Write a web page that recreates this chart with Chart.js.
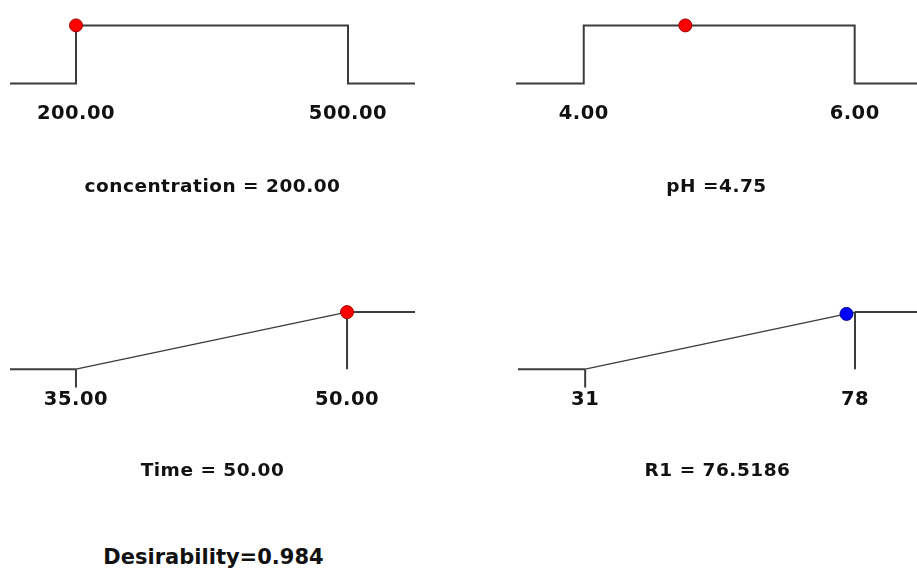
<!DOCTYPE html>
<html>
<head>
<meta charset="utf-8">
<script src="https://cdn.jsdelivr.net/npm/chart.js@4.4.1/dist/chart.umd.min.js"></script>
<style>
  html, body { margin: 0; padding: 0; background: #fff; }
  body { width: 917px; height: 569px; position: relative; overflow: hidden; }
  canvas { position: absolute; }
  #overall {
    position: absolute; left: 0; width: 427px; top: 545px;
    text-align: center; color: #111; line-height: 21px;
    font: bold 21px "DejaVu Sans", sans-serif;
  }
</style>
</head>
<body>
<canvas id="conc" width="405" height="190" style="left:10px;top:8px"></canvas>
<canvas id="ph" width="401" height="190" style="left:516px;top:8px"></canvas>
<canvas id="time" width="405" height="187" style="left:10px;top:295px"></canvas>
<canvas id="r1" width="399" height="187" style="left:518px;top:295px"></canvas>
<div id="overall">Desirability=0.984</div>
<script>
// concentration (in range)
const concX = [127.2, 200, 200, 500, 500, 573.9];
const concY = [0, 0, 1, 1, 0, 0];
const concTicks = [200, 500];
const concTickLabels = ['200.00', '500.00'];
const concPoint = [200, 1];

// pH (in range)
const phX = [3.5, 4, 4, 6, 6, 6.46];
const phY = [0, 0, 1, 1, 0, 0];
const phTicks = [4, 6];
const phTickLabels = ['4.00', '6.00'];
const phPoint = [4.75, 1];

// Time (maximize)
const timeX = [31.35, 35, 50, 53.76];
const timeY = [0, 0, 1, 1];
const timeTicks = [35, 50];
const timeTickLabels = ['35.00', '50.00'];
const timePoint = [50, 1];
const timeHighX = [50, 50];
const timeHighY = [1, 0];
const timeLowX = [35, 35];
const timeLowY = [0, -0.32];

// R1 (maximize)
const r1X = [19.3, 31, 78, 88.8];
const r1Y = [0, 0, 1, 1];
const r1Ticks = [31, 78];
const r1TickLabels = ['31', '78'];
const r1Point = [76.5186, 0.9685];
const r1HighX = [78, 78];
const r1HighY = [1, 0];
const r1LowX = [31, 31];
const r1LowY = [0, -0.32];

const LINE = '#3c3c3c';
const FONT = '"DejaVu Sans", sans-serif';

function pts(xs, ys) {
  return xs.map((x, i) => ({ x: x, y: ys[i] }));
}

function lineSet(data) {
  return {
    data: data,
    borderColor: LINE,
    borderWidth: 2,
    pointRadius: 0,
    clip: false,
    segment: {
      // the sloped ramp is drawn thinner than the flat/vertical parts
      borderWidth: (c) => (c.p0.parsed.x !== c.p1.parsed.x && c.p0.parsed.y !== c.p1.parsed.y) ? 1.4 : 2
    }
  };
}

const spacing = {
  id: 'spacing',
  beforeDraw(chart) {
    chart.ctx.letterSpacing = '0.5px';
  }
};

function makePanel(id, lines, point, fill, edge, ticks, tickLabels, title, yMin, tickPad, axisHeight) {
  const xs = lines[0].map(p => p.x);
  const datasets = [{
    data: [{ x: point[0], y: point[1] }],
    showLine: false,
    pointRadius: 6.5,
    pointBackgroundColor: fill,
    pointBorderColor: edge,
    pointBorderWidth: 1,
    clip: false
  }].concat(lines.map(lineSet));

  new Chart(document.getElementById(id), {
    type: 'line',
    data: { datasets: datasets },
    plugins: [spacing],
    options: {
      responsive: false,
      animation: false,
      layout: { padding: 0, autoPadding: false },
      plugins: { legend: { display: false }, tooltip: { enabled: false } },
      scales: {
        x: {
          type: 'linear',
          min: Math.min(...xs),
          max: Math.max(...xs),
          grid: { display: false, drawTicks: false, tickLength: 0 },
          border: { display: false },
          afterBuildTicks: (scale) => { scale.ticks = ticks.map(v => ({ value: v })); },
          afterFit: (scale) => { scale.height = axisHeight; },
          ticks: {
            padding: tickPad,
            color: '#111',
            font: { family: FONT, size: 19.5, weight: 'bold' },
            maxRotation: 0,
            autoSkip: false,
            callback: (v, i) => tickLabels[i]
          },
          title: {
            display: true,
            text: title,
            color: '#111',
            font: { family: FONT, size: 18.5, weight: 'bold' },
            padding: { top: 0, bottom: 0 }
          }
        },
        y: { display: false, min: yMin, max: 1.3 }
      }
    }
  });
}

makePanel('conc', [pts(concX, concY)], concPoint, '#ff0000', '#a00000',
  concTicks, concTickLabels, 'concentration = 200.00', -0.2, 7, 103);
makePanel('ph', [pts(phX, phY)], phPoint, '#ff0000', '#a00000',
  phTicks, phTickLabels, 'pH =4.75', -0.2, 7, 103);
makePanel('time', [pts(timeX, timeY), pts(timeHighX, timeHighY), pts(timeLowX, timeLowY)], timePoint, '#ff0000', '#a00000',
  timeTicks, timeTickLabels, 'Time = 50.00', -0.33, 0, 94);
makePanel('r1', [pts(r1X, r1Y), pts(r1HighX, r1HighY), pts(r1LowX, r1LowY)], r1Point, '#0000ff', '#000090',
  r1Ticks, r1TickLabels, 'R1 = 76.5186', -0.33, 0, 94);
</script>
</body>
</html>
